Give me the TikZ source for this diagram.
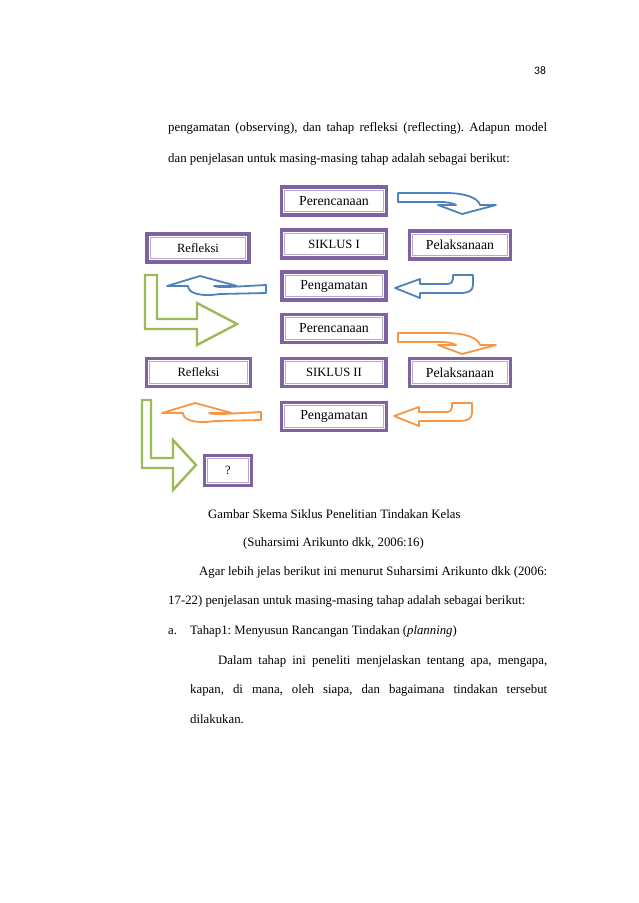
\documentclass[tikz,border=0pt]{standalone}
\usepackage{fontspec}
\setmainfont{Liberation Serif}
\newfontfamily\pnfont{Carlito}
\definecolor{pur}{HTML}{7E62A1}
\definecolor{lav}{HTML}{B9A9D0}
\definecolor{blu}{HTML}{4F81BD}
\definecolor{org}{HTML}{F79646}
\definecolor{grn}{HTML}{9BBB59}
\frenchspacing
\begin{document}
\begin{tikzpicture}[x=1pt,y=-1pt,
  box/.style={draw=pur, line width=3.2pt, fill=white, minimum height=28pt, inner sep=0pt,
    font=\fontsize{13.8}{15}\selectfont,
    path picture={\draw[lav, line width=1pt]
      ([shift={(3.4pt,-3.4pt)}]path picture bounding box.north west) rectangle
      ([shift={(-3.4pt,3.4pt)}]path picture bounding box.south east);}},
  small/.style={font=\fontsize{12.6}{15}\selectfont},
  body/.style={anchor=base west, inner sep=0pt, font=\fontsize{12.8}{15}\selectfont},
  barrow/.style={draw=blu, line width=1.8pt, fill=white, line join=round},
  oarrow/.style={draw=org, line width=1.8pt, fill=white, line join=round},
  garrow/.style={draw=grn, line width=2.4pt, fill=white, line join=miter}]
\fill[white] (0,0) rectangle (638,903);
\useasboundingbox (0,0) rectangle (638,903);

% page number
\node[anchor=base west, inner sep=0pt, font=\pnfont\fontsize{11.5}{13}\selectfont] (pg) at (534,74) {38};

% text above
\node[body] (t1) at (168,131) {\makebox[379pt][s]{pengamatan (observing), dan tahap refleksi (reflecting). Adapun model}};
\node[body] (t2) at (168,162) {dan penjelasan untuk masing-masing tahap adalah sebagai berikut:};

% boxes
\node[box, minimum width=105pt] (per1) at (334,201) {Perencanaan};
\node[box, minimum width=105pt, small] (sik1) at (334,244) {SIKLUS I};
\node[box, minimum width=102pt, small] (ref1) at (198,248) {Refleksi};
\node[box, minimum width=101pt] (pel1) at (460,245) {Pelaksanaan};
\node[box, minimum width=104pt] (pen1) at (334,286) {Pengamatan};
\node[box, minimum width=104pt] (per2) at (334,328.5) {Perencanaan};
\node[box, minimum width=104pt, small] (ref2) at (198.5,372.5) {Refleksi};
\node[box, minimum width=104pt, small] (sik2) at (334,372.5) {SIKLUS II};
\node[box, minimum width=101pt] (pel2) at (460,372.5) {Pelaksanaan};
\node[box, minimum width=105pt] (pen2) at (334,416.5) {Pengamatan};
\node[box, minimum width=47pt, minimum height=30pt, small] (q) at (228,470.5) {?};

% blue arrows (cycle I)
\draw[barrow] (398,193) -- (445,193) .. controls (466,193) and (478,198) .. (480,205)
  -- (496,205) -- (462,214) -- (438,205) -- (456,205)
  .. controls (452,203) and (448,202) .. (440,202) -- (398,202) -- cycle;
\draw[barrow] (266,285) -- (266,293) -- (220,294) .. controls (200,297) and (188,293) .. (188,286)
  -- (167,286) -- (200,276) -- (237,286) -- (214,286)
  .. controls (216,287) and (220,287) .. (228,287) -- cycle;
\draw[barrow] (395,288) -- (420,279) -- (420,284) -- (447,284) .. controls (451,284) and (453,282) .. (453,279)
  -- (453,275) -- (473,275) -- (473,285) .. controls (473,291) and (468,293) .. (460,293)
  -- (420,293) -- (420,298) -- cycle;

% orange arrows (cycle II)
\begin{scope}[shift={(0,140)}]
\draw[oarrow] (398,193) -- (445,193) .. controls (466,193) and (478,198) .. (480,205)
  -- (496,205) -- (462,214) -- (438,205) -- (456,205)
  .. controls (452,203) and (448,202) .. (440,202) -- (398,202) -- cycle;
\end{scope}
\begin{scope}[shift={(-5,127)}]
\draw[oarrow] (266,285) -- (266,293) -- (220,294) .. controls (200,297) and (188,293) .. (188,286)
  -- (167,286) -- (200,276) -- (237,286) -- (214,286)
  .. controls (216,287) and (220,287) .. (228,287) -- cycle;
\end{scope}
\begin{scope}[shift={(-1,128)}]
\draw[oarrow] (395,288) -- (420,279) -- (420,284) -- (447,284) .. controls (451,284) and (453,282) .. (453,279)
  -- (453,275) -- (473,275) -- (473,285) .. controls (473,291) and (468,293) .. (460,293)
  -- (420,293) -- (420,298) -- cycle;
\end{scope}

% green bent arrows
\draw[garrow] (145,275) -- (157,275) -- (157,319) -- (197,319) -- (197,303) -- (237,324)
  -- (197,345) -- (197,329) -- (145,329) -- cycle;
\draw[garrow] (142,400) -- (151,400) -- (151,458) -- (173,458) -- (173,440) -- (196,465)
  -- (173,490) -- (173,468) -- (142,468) -- cycle;

% caption
\node[body] (c1) at (208,518) {Gambar Skema Siklus Penelitian Tindakan Kelas};
\node[body] (c2) at (243,546) {(Suharsimi Arikunto dkk, 2006:16)};

% text below
\node[body] (t3) at (199,575) {\makebox[348pt][s]{Agar lebih jelas berikut ini menurut Suharsimi Arikunto dkk (2006:}};
\node[body] (t4) at (168,604.5) {17-22) penjelasan untuk masing-masing tahap adalah sebagai berikut:};
\node[body] (t5a) at (168,634) {a.};
\node[body] (t5) at (190,634) {Tahap1: Menyusun Rancangan Tindakan (\textit{planning})};
\node[body] (t6) at (218,664) {\makebox[329pt][s]{Dalam tahap ini peneliti menjelaskan tentang apa, mengapa,}};
\node[body] (t7) at (190,693) {\makebox[357pt][s]{kapan, di mana, oleh siapa, dan bagaimana tindakan tersebut}};
\node[body] (t8) at (190,723) {dilakukan.};
\end{tikzpicture}
\end{document}
